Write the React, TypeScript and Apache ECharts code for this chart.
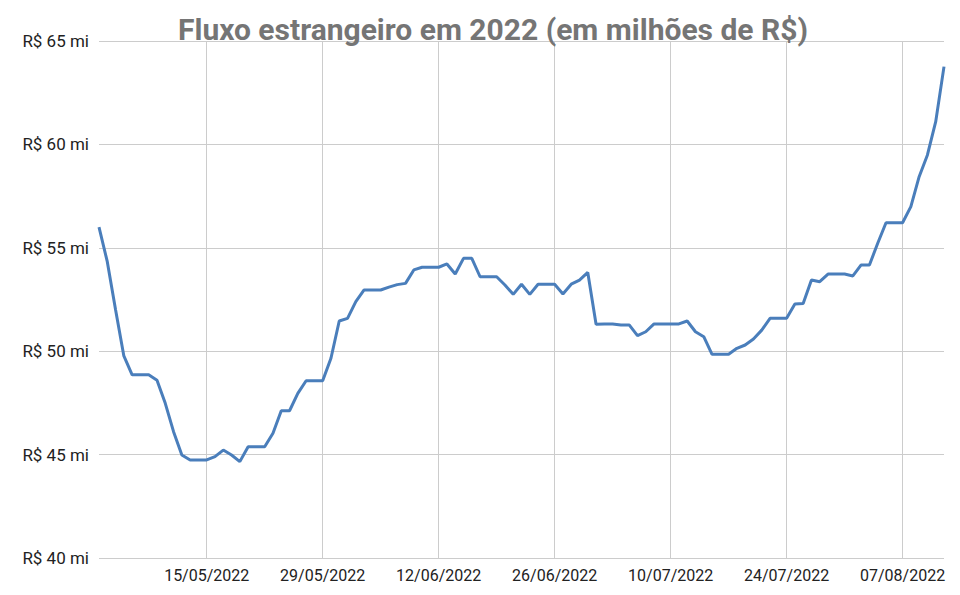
import React, { useEffect, useRef } from "react";
import * as echarts from "echarts";

const TITLE = "Fluxo estrangeiro em 2022 (em milhões de R$)";
const START_DATE = [2022, 4, 2]; // 02/05/2022 (month is 0-based)
const VALUES = [
  56.0, 54.33, 52.0, 49.77, 48.86, 48.86, 48.86, 48.6, 47.48, 46.11,
  44.98, 44.74, 44.74, 44.74, 44.9, 45.22, 44.98, 44.66, 45.38, 45.38,
  45.38, 46.03, 47.12, 47.12, 47.96, 48.57, 48.57, 48.57, 49.66, 51.46,
  51.59, 52.4, 52.96, 52.96, 52.96, 53.1, 53.22, 53.28, 53.93, 54.06,
  54.06, 54.06, 54.22, 53.73, 54.49, 54.49, 53.6, 53.6, 53.6, 53.2,
  52.75, 53.24, 52.75, 53.24, 53.24, 53.24, 52.77, 53.24, 53.44, 53.81,
  51.3, 51.32, 51.32, 51.27, 51.27, 50.75, 50.94, 51.32, 51.32, 51.32,
  51.32, 51.46, 50.94, 50.7, 49.85, 49.85, 49.85, 50.14, 50.3, 50.59,
  51.02, 51.59, 51.59, 51.59, 52.28, 52.31, 53.44, 53.36, 53.73, 53.73,
  53.73, 53.64, 54.17, 54.17, 55.22, 56.21, 56.21, 56.21, 56.99, 58.44,
  59.49, 61.1, 63.76,
];
const TICK_DATES = [
  "15/05/2022",
  "29/05/2022",
  "12/06/2022",
  "26/06/2022",
  "10/07/2022",
  "24/07/2022",
  "07/08/2022",
];
const Y_MIN = 40;
const Y_MAX = 65;
const Y_STEP = 5;

function pad(n: number) {
  return n < 10 ? "0" + n : String(n);
}
const CATEGORIES: string[] = VALUES.map((_, i) => {
  const d = new Date(START_DATE[0], START_DATE[1], START_DATE[2] + i);
  return `${pad(d.getDate())}/${pad(d.getMonth() + 1)}/${d.getFullYear()}`;
});

export default function App() {
  const ref = useRef<HTMLDivElement>(null);
  useEffect(() => {
    document.body.style.margin = "0";
    if (!ref.current) return;
    const chart = echarts.init(ref.current, null, { renderer: "svg" });
    const isTick = (_i: number, v: string) => TICK_DATES.includes(v);
    chart.setOption({
      animation: false,
      backgroundColor: "#ffffff",
      title: {
        text: TITLE,
        left: 173,
        top: 9,
        textStyle: {
          fontFamily: "Roboto",
          fontSize: 30,
          fontWeight: "bold",
          color: "#757575",
        },
      },
      grid: { left: 99, right: 16, top: 41, bottom: 37, containLabel: false },
      xAxis: {
        type: "category",
        data: CATEGORIES,
        boundaryGap: false,
        axisLine: { show: false },
        axisTick: { show: false },
        axisLabel: {
          interval: isTick,
          fontFamily: "Roboto",
          fontSize: 16,
          color: "#222222",
          margin: 9,
        },
        splitLine: {
          show: true,
          interval: isTick,
          lineStyle: { color: "#cccccc", width: 1 },
        },
      },
      yAxis: {
        type: "value",
        min: Y_MIN,
        max: Y_MAX,
        interval: Y_STEP,
        axisLine: { show: false },
        axisTick: { show: false },
        axisLabel: {
          formatter: (v: number) => `R$ ${v} mi`,
          fontFamily: "Roboto",
          fontSize: 17,
          color: "#222222",
          margin: 10,
        },
        splitLine: { lineStyle: { color: "#cccccc", width: 1 } },
      },
      series: [
        {
          type: "line",
          data: VALUES,
          symbol: "none",
          smooth: false,
          lineStyle: { color: "#4a7ebb", width: 3 },
        },
      ],
    });
    return () => chart.dispose();
  }, []);
  return <div ref={ref} style={{ width: 960, height: 595 }} />;
}
